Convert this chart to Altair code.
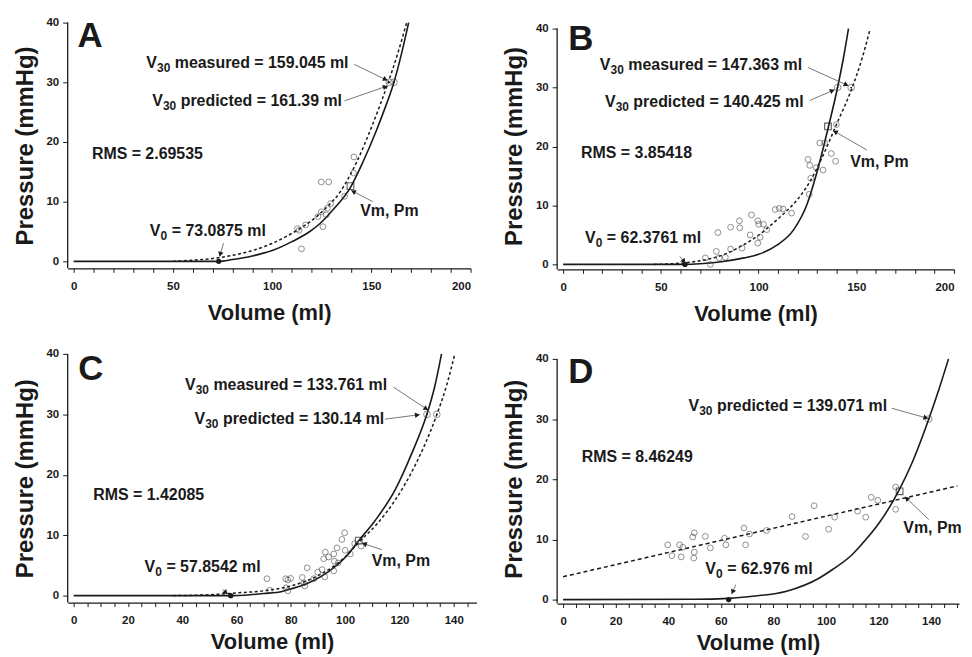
import math
import altair as alt
import pandas as pd

FONT = "Liberation Sans"
INK = "#1a1a1a"

# ---------------- Panel A ----------------
A_obs_v = [112.8, 113.6, 116.9, 114.8, 124.8, 128.5, 141.2, 141.0, 123.1, 124.8, 125.6, 127.3, 127.8, 129.5, 136.5]
A_obs_p = [5.5, 5.2, 6.1, 2.1, 13.3, 13.3, 17.5, 14.8, 7.5, 8.3, 5.8, 7.8, 8.9, 9.7, 10.9]
A_fit_v = [0, 73.1, 80, 90, 100, 110, 119, 124, 130, 139.5, 145.7, 152.4, 157, 161.4, 165.2, 168.8]
A_fit_p = [0, 0, 0.3, 0.9, 1.8, 3.3, 5.0, 6.3, 8.4, 12.4, 16.6, 21.8, 25.8, 30, 34.8, 40]
A_alt_v = [50, 60, 73, 80, 90, 100, 110, 119, 127, 134, 142.4, 150.7, 158.2, 163, 167.8]
A_alt_p = [0, 0.2, 0.6, 1.0, 1.8, 3.0, 4.7, 6.6, 8.9, 11.5, 16.5, 23, 29.7, 34.5, 40]
A_v30 = [159.045, 161.39]
A_vm = [139.5, 12.6]
A_v0 = 73.0875

# ---------------- Panel B ----------------
B_obs_v = [79.2, 85.7, 90.2, 90.4, 96.4, 99.6, 100.1, 102.5, 104.2, 95.7, 100.8, 99.6, 91.5, 85.7, 78.4, 79.9,
           83.0, 72.8, 75.3, 108.5, 110.6, 112.5, 116.9, 125.9, 125.3, 126.2, 126.7, 129.6, 131.3, 133.0,
           133.8, 137.2, 139.4, 139.8]
B_obs_p = [5.4, 6.3, 7.4, 6.2, 8.4, 7.4, 6.8, 6.8, 5.9, 5.0, 4.6, 3.6, 2.75, 2.6, 2.2, 1.1,
           1.2, 1.1, 0.0, 9.3, 9.5, 9.4, 8.7, 11.9, 17.8, 16.8, 14.6, 16.4, 20.6, 16.0,
           20.6, 18.8, 17.5, 23.7]
B_fit_v = [0, 62.4, 70, 80, 92.6, 100, 109.6, 118, 124.8, 130, 135.5, 140.4, 143.3, 146]
B_fit_p = [0, 0, 0.1, 0.4, 1.1, 1.7, 3.3, 5.9, 10.2, 15.8, 23.0, 30, 34.8, 40]
B_alt_v = [46.5, 55, 63.5, 70, 77, 84, 90.6, 99, 107.5, 113.5, 119.4, 126.2, 133, 139.8, 147.9, 153, 157.1]
B_alt_p = [0, 0.1, 0.3, 0.6, 1.1, 1.9, 3.0, 4.7, 7.0, 8.8, 10.8, 14, 18.5, 23.7, 30, 35, 40]
B_v30 = [147.363, 140.425]
B_vm = [135.5, 23.4]
B_v0 = 62.3761

# ---------------- Panel C ----------------
C_obs_v = [71.2, 72.2, 78.1, 78.9, 78.3, 78.9, 79.9, 84.2, 84.8, 85.1, 86.0, 88.5, 89.9, 91.5, 92.5, 92.1,
           92.7, 93.9, 95.8, 96.0, 95.8, 97.0, 97.4, 98.8, 99.8, 100.0, 101.9, 103.5, 105.9]
C_obs_p = [2.8, 0.9, 2.8, 2.6, 1.3, 0.8, 2.85, 3.0, 2.1, 1.6, 4.6, 2.8, 3.9, 4.3, 3.1, 6.1,
           7.2, 6.4, 6.9, 5.7, 4.1, 7.9, 5.4, 9.3, 10.4, 7.5, 6.9, 8.6, 8.2]
C_fit_v = [0, 57.9, 65, 70, 76.8, 80, 86, 94, 100, 105, 111, 118.4, 124.5, 130.1, 133, 135.5]
C_fit_p = [0, 0, 0.15, 0.35, 0.7, 1.1, 2.0, 4.0, 6.3, 9.1, 12.4, 17.5, 23.5, 30, 34.6, 40]
C_alt_v = [36.5, 50, 60, 70, 80, 90, 100, 105, 112, 118.4, 125.7, 133.8, 137.5, 140.4]
C_alt_p = [0, 0.15, 0.45, 0.8, 1.6, 3.3, 6.4, 8.8, 12.0, 15.8, 21.5, 30, 35, 40]
C_v30 = [133.761, 130.14]
C_vm = [105.0, 9.1]
C_v0 = 57.8542

# ---------------- Panel D ----------------
D_obs_v = [39.8, 41.4, 44.3, 44.9, 45.5, 49.3, 49.9, 49.9, 49.7, 54.1, 56.0, 61.4, 61.9, 68.8, 69.4, 70.9,
           77.4, 87.1, 92.2, 95.5, 101.0, 103.3, 112.0, 115.1, 117.2, 119.7, 126.5, 126.5]
D_obs_p = [9.1, 7.3, 9.1, 7.1, 8.7, 10.4, 11.1, 7.9, 6.9, 10.5, 8.6, 10.2, 9.1, 11.9, 9.1, 10.9,
           11.5, 13.8, 10.5, 15.6, 11.7, 13.7, 14.7, 13.7, 17.0, 16.5, 18.7, 15.0]
D_fit_v = [0, 50, 63, 72, 85, 97.5, 102.5, 110, 115, 120, 127.8, 133, 139.1, 143, 146.6]
D_fit_p = [0, 0.05, 0.2, 0.55, 1.4, 3.6, 5.0, 7.5, 9.9, 12.6, 18.2, 23.0, 30, 35, 40]
D_alt_v = [0, 150]
D_alt_p = [3.8, 18.9]
D_v30 = [139.071]
D_vm = [128.0, 18.0]
D_v0 = 62.976

# ---------------- Annotations ----------------
# subscripted labels: (x, y, subscript, rest)
A_sub = [(36.6, 33.3, "30", "measured = 159.045 ml"), (39.6, 26.8, "30", "predicted = 161.39 ml"),
         (38.4, 5.0, "0", "= 73.0875 ml")]
B_sub = [(18.8, 33.8, "30", "measured = 147.363 ml"), (21.4, 27.5, "30", "predicted = 140.425 ml"),
         (11.2, 4.45, "0", "= 62.3761 ml")]
C_sub = [(41.0, 34.9, "30", "measured = 133.761 ml"), (44.5, 29.2, "30", "predicted = 130.14 ml"),
         (26.1, 4.7, "0", "= 57.8542 ml")]
D_sub = [(47.7, 32.2, "30", "predicted = 139.071 ml"), (54.1, 5.0, "0", "= 62.976 ml")]

A_plain = [(9.2, 18.05, "RMS = 2.69535"), (144.4, 8.5, "Vm, Pm")]
B_plain = [(9.2, 18.95, "RMS = 3.85418"), (146.9, 17.4, "Vm, Pm")]
C_plain = [(7.2, 16.7, "RMS = 1.42085"), (109.8, 5.7, "Vm, Pm")]
D_plain = [(7.1, 23.75, "RMS = 8.46249"), (129.4, 11.9, "Vm, Pm")]

A_letter = (2.0, 37.8, "A")
B_letter = (2.7, 38.3, "B")
C_letter = (1.7, 37.5, "C")
D_letter = (2.0, 37.8, "D")

# arrows: (from v, from p, to v, to p)
A_arrows = [(141.4, 33.0, 158.2, 30.3), (136.5, 26.9, 158.2, 29.4), (150.7, 10.0, 139.8, 11.9), (75.5, 3.05, 73.5, 0.8)]
B_arrows = [(125.3, 33.4, 146.0, 30.3), (126.2, 27.8, 138.9, 29.65), (155.4, 19.4, 138.1, 22.7), (59.7, 1.35, 62.6, 0.2)]
C_arrows = [(117.8, 34.5, 130.6, 30.7), (114.7, 29.2, 127.5, 29.95), (113.5, 7.6, 106.2, 8.7), (54.9, 1.05, 56.7, 0.2)]
D_arrows = [(125.0, 31.8, 138.9, 30.1), (139.1, 13.3, 130.0, 17.1), (65.7, 2.5, 64.1, 0.9)]


def panel(obs_v, obs_p, fit_v, fit_p, alt_v, alt_p, v30, vm, v0, subs, plains, letter, arrows,
          xdom, ydom, w, h, tick_step, major, tick_max, dash, xtitle_pad):
    xmin, xmax = xdom
    ymin, ymax = ydom
    xs = alt.Scale(domain=[xmin, xmax], nice=False, zero=False)
    ys = alt.Scale(domain=[ymin, ymax], nice=False, zero=False)
    xaxis = alt.Axis(values=list(range(0, tick_max + 1, tick_step)),
                     labelExpr=f"datum.value % {major} == 0 ? datum.label : ''",
                     title="Volume (ml)", grid=False, tickSize=4, labelPadding=8,
                     titlePadding=xtitle_pad, titleFontSize=22, domainWidth=1.3, tickWidth=1)
    yaxis = alt.Axis(values=[0, 10, 20, 30, 40], title="Pressure (mmHg)", grid=False, domain=False,
                     tickSize=5, labelPadding=4, titlePadding=9, titleFontSize=24, tickWidth=1)
    X = alt.X("v:Q", scale=xs, axis=xaxis)
    Y = alt.Y("p:Q", scale=ys, axis=yaxis)
    kx = w / (xmax - xmin)
    ky = h / (ymax - ymin)

    layers = []
    # y axis line (stops at 40)
    layers.append(alt.Chart(pd.DataFrame({"v": [xmin], "p": [ymin], "p2": [40]})).mark_rule(
        color=INK, strokeWidth=1.3).encode(x=X, y=Y, y2="p2:Q"))
    # curves
    layers.append(alt.Chart(pd.DataFrame({"v": alt_v, "p": alt_p})).mark_line(
        color=INK, strokeWidth=1.5, strokeDash=dash, interpolate="monotone").encode(x=X, y=Y))
    layers.append(alt.Chart(pd.DataFrame({"v": fit_v, "p": fit_p})).mark_line(
        color=INK, strokeWidth=1.6, interpolate="monotone").encode(x=X, y=Y))
    # observations
    layers.append(alt.Chart(pd.DataFrame({"v": obs_v, "p": obs_p})).mark_point(
        shape="circle", filled=False, size=34, color="#3a3a3a", strokeWidth=0.8).encode(x=X, y=Y))
    # V30 points
    d30 = pd.DataFrame({"v": v30, "p": [30] * len(v30)})
    layers.append(alt.Chart(d30).mark_point(shape="circle", filled=False, size=45, color="#3a3a3a",
                                            strokeWidth=0.8).encode(x=X, y=Y))
    layers.append(alt.Chart(d30).mark_point(shape="circle", filled=True, size=3, color=INK,
                                            opacity=1).encode(x=X, y=Y))
    # Vm, Pm square
    layers.append(alt.Chart(pd.DataFrame({"v": [vm[0]], "p": [vm[1]]})).mark_point(
        shape="square", filled=False, size=45, color=INK, strokeWidth=1.1).encode(x=X, y=Y))
    # V0 dot
    layers.append(alt.Chart(pd.DataFrame({"v": [v0], "p": [0]})).mark_point(
        shape="circle", filled=True, size=28, color=INK, opacity=1).encode(x=X, y=Y))
    # arrows
    ar = pd.DataFrame(arrows, columns=["v", "p", "v2", "p2"])
    layers.append(alt.Chart(ar).mark_rule(color="#555555", strokeWidth=0.8).encode(
        x=X, y=Y, x2="v2:Q", y2="p2:Q"))
    heads = []
    for (a, b, c, d) in arrows:
        dxs = (c - a) * kx
        dys = -(d - b) * ky
        L = math.hypot(dxs, dys)
        ux, uy = dxs / L, dys / L
        ang = math.degrees(math.atan2(dys, dxs)) % 360
        heads.append({"v": c - 2.5 * ux / kx, "p": d + 2.5 * uy / ky, "ang": ang})
    layers.append(alt.Chart(pd.DataFrame(heads)).mark_point(
        shape="triangle-right", filled=True, size=30, color=INK, opacity=1).encode(
        x=X, y=Y, angle=alt.Angle("ang:Q", scale=None)))
    # texts
    tfont = dict(font=FONT, fontWeight="bold", color=INK, baseline="middle", align="left")
    sdf = pd.DataFrame(subs, columns=["v", "p", "sub", "rest"])
    sdf["V"] = "V"
    layers.append(alt.Chart(sdf).mark_text(fontSize=16, **tfont).encode(x=X, y=Y, text="V:N"))
    layers.append(alt.Chart(sdf).mark_text(fontSize=12, dx=10.8, dy=5, **tfont).encode(x=X, y=Y, text="sub:N"))
    s30 = sdf[sdf["sub"] == "30"]
    s0 = sdf[sdf["sub"] == "0"]
    if len(s30):
        layers.append(alt.Chart(s30).mark_text(fontSize=16, dx=28.6, **tfont).encode(x=X, y=Y, text="rest:N"))
    if len(s0):
        layers.append(alt.Chart(s0).mark_text(fontSize=16, dx=22.0, **tfont).encode(x=X, y=Y, text="rest:N"))
    pdf = pd.DataFrame(plains, columns=["v", "p", "t"])
    layers.append(alt.Chart(pdf).mark_text(fontSize=16, **tfont).encode(x=X, y=Y, text="t:N"))
    ldf = pd.DataFrame([letter], columns=["v", "p", "t"])
    layers.append(alt.Chart(ldf).mark_text(fontSize=35, **tfont).encode(x=X, y=Y, text="t:N"))

    return alt.layer(*layers).properties(width=w, height=h)


pA = panel(A_obs_v, A_obs_p, A_fit_v, A_fit_p, A_alt_v, A_alt_p, A_v30, A_vm, A_v0, A_sub, A_plain,
           A_letter, A_arrows, (-3.0, 200), (-1.17, 40), 405, 247, 10, 50, 200, [3, 2.5], 11)
pB = panel(B_obs_v, B_obs_p, B_fit_v, B_fit_p, B_alt_v, B_alt_p, B_v30, B_vm, B_v0, B_sub, B_plain,
           B_letter, B_arrows, (-3.05, 200), (-0.84, 41.01), 399, 248, 10, 50, 200, [3, 2.5], 11)
pC = panel(C_obs_v, C_obs_p, C_fit_v, C_fit_p, C_alt_v, C_alt_p, C_v30, C_vm, C_v0, C_sub, C_plain,
           C_letter, C_arrows, (-2.2, 148.4), (-1.15, 40), 411, 250, 5, 20, 145, [3, 2.5], 6)
pD = panel(D_obs_v, D_obs_p, D_fit_v, D_fit_p, D_alt_v, D_alt_p, D_v30, D_vm, D_v0, D_sub, D_plain,
           D_letter, D_arrows, (-2.27, 150.6), (-0.66, 40.83), 404, 251, 5, 20, 150, [4, 3], 6)

row1 = alt.hconcat(pA, pB, spacing=87, bounds="flush")
row2 = alt.hconcat(pC, pD, spacing=81, bounds="flush")
# nested rows count as zero height under flush bounds, so the spacing spans row 1's plot height plus the gap
chart = alt.vconcat(row1, row2, spacing=333, bounds="flush").properties(
    padding={"left": 5, "top": 7, "right": 2, "bottom": 2}
).configure_view(stroke=None).configure_axis(
    labelFont=FONT, labelFontWeight="bold", labelFontSize=11.5, labelColor=INK,
    titleFont=FONT, titleFontWeight="bold", titleColor=INK,
    tickColor=INK, domainColor=INK,
)

chart.save("out.html", embed_options={"renderer": "svg", "actions": False})
